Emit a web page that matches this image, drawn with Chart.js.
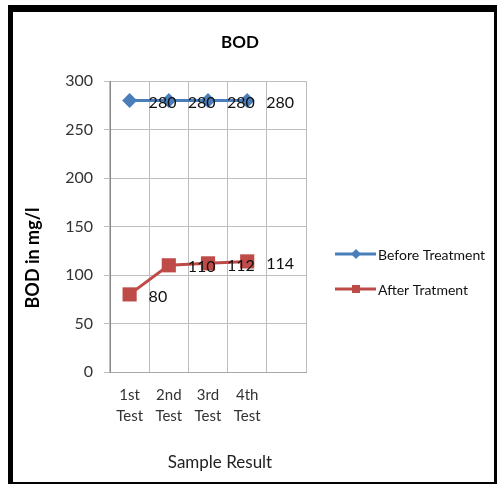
<!DOCTYPE html>
<html lang="en">
  <head>
    <meta charset="UTF-8" />
    <title>BOD</title>
    <script src="https://cdn.jsdelivr.net/npm/chart.js"></script>
    <style>
      body { margin: 0; background: #fff; }
      canvas { display: block; }
    </style>
  </head>
  <body>
    <canvas id="grafico_bod" width="498" height="485"></canvas>
  </body>
</html>
<script>
  // dados
  const categorias = [["1st", "Test"], ["2nd", "Test"], ["3rd", "Test"], ["4th", "Test"], ""];
  const antes = [280, 280, 280, 280, null];
  const depois = [80, 110, 112, 114, null];
  const nomesSeries = ["Before Treatment", "After Tratment"];
  const coresSeries = ["#4a7ebb", "#be4b48"];

  const fonte = "Lato, 'Open Sans', sans-serif";

  // moldura preta + fundo
  const moldura = {
    id: "moldura",
    beforeDraw(chart) {
      const ctx = chart.ctx;
      ctx.save();
      ctx.fillStyle = "#fff";
      ctx.fillRect(0, 0, chart.width, chart.height);
      ctx.fillStyle = "#000";
      ctx.fillRect(8, 5, 489, 7);
      ctx.fillRect(8, 5, 5, 479);
      ctx.fillRect(494, 5, 3, 479);
      ctx.fillRect(8, 482, 489, 2);
      ctx.restore();
    },
  };

  // titulos, rotulos dos pontos e legenda
  const textos = {
    id: "textos",
    afterDatasetsDraw(chart) {
      const ctx = chart.ctx;
      ctx.save();
      ctx.fillStyle = "#111";
      ctx.textBaseline = "middle";
      ctx.textAlign = "left";
      ctx.font = "16px " + fonte;
      chart.data.datasets.forEach((ds, i) => {
        const meta = chart.getDatasetMeta(i);
        meta.data.forEach((pt, j) => {
          if (ds.data[j] == null) return;
          ctx.fillText(String(ds.data[j]), pt.x + 19, pt.y + 2);
        });
      });
      ctx.restore();
    },
    afterDraw(chart) {
      const ctx = chart.ctx;
      ctx.save();
      ctx.fillStyle = "#000";
      ctx.textBaseline = "middle";
      ctx.textAlign = "center";

      ctx.font = "bold 17px " + fonte;
      ctx.fillText("BOD", 240, 43);

      ctx.font = "17px " + fonte;
      ctx.fillStyle = "#222";
      ctx.fillText("Sample Result", 220, 463);

      ctx.save();
      ctx.translate(33, 258);
      ctx.rotate(-Math.PI / 2);
      ctx.font = "bold 18px " + fonte;
      ctx.fillStyle = "#000";
      ctx.fillText("BOD in mg/l", 0, 0);
      ctx.restore();

      // legenda
      const ys = [254, 289];
      ctx.font = "14px " + fonte;
      ctx.textAlign = "left";
      ctx.fillStyle = "#111";
      nomesSeries.forEach((nome, i) => {
        const y = ys[i];
        ctx.strokeStyle = coresSeries[i];
        ctx.lineWidth = 3;
        ctx.beginPath();
        ctx.moveTo(335, y);
        ctx.lineTo(376, y);
        ctx.stroke();
        ctx.fillStyle = coresSeries[i];
        ctx.beginPath();
        if (i === 0) {
          ctx.moveTo(356 - 5, y);
          ctx.lineTo(356, y - 5);
          ctx.lineTo(356 + 5, y);
          ctx.lineTo(356, y + 5);
          ctx.closePath();
        } else {
          ctx.rect(352, y - 4, 8, 8);
        }
        ctx.fill();
        ctx.fillStyle = "#111";
        ctx.fillText(nome, 378, y + 1);
      });
      ctx.restore();
    },
  };

  const grafico = document.getElementById("grafico_bod");
  const bod = new Chart(grafico, {
    type: "line",
    data: {
      labels: categorias,
      datasets: [
        {
          label: nomesSeries[0],
          data: antes,
          borderColor: coresSeries[0],
          backgroundColor: coresSeries[0],
          borderWidth: 3,
          pointStyle: "rectRot",
          pointRadius: 7.5,
          pointBorderWidth: 0,
        },
        {
          label: nomesSeries[1],
          data: depois,
          borderColor: coresSeries[1],
          backgroundColor: coresSeries[1],
          borderWidth: 3,
          pointStyle: "rect",
          pointRadius: 10,
          pointBorderWidth: 0,
        },
      ],
    },
    options: {
      responsive: false,
      animation: false,
      layout: { padding: { top: 81, right: 192, left: 0, bottom: 0 } },
      plugins: {
        legend: { display: false },
        title: { display: false },
        tooltip: { enabled: false },
      },
      scales: {
        x: {
          offset: true,
          grid: { color: "#bdbdbd", drawTicks: false, offset: true },
          border: { color: "#a8a8a8" },
          ticks: {
            color: "#333",
            padding: 12,
            font: { family: fonte, size: 15, lineHeight: 1.45 },
            maxRotation: 0,
            autoSkip: false,
          },
          afterFit: (s) => { s.height = 113; },
        },
        y: {
          min: 0,
          max: 300,
          ticks: {
            stepSize: 50,
            color: "#333",
            padding: 11,
            font: { family: fonte, size: 16 },
          },
          grid: { color: "#bdbdbd", tickLength: 6 },
          border: { color: "#8a8a8a" },
          afterFit: (s) => { s.width = 110; },
        },
      },
    },
    plugins: [moldura, textos],
  });
</script>
